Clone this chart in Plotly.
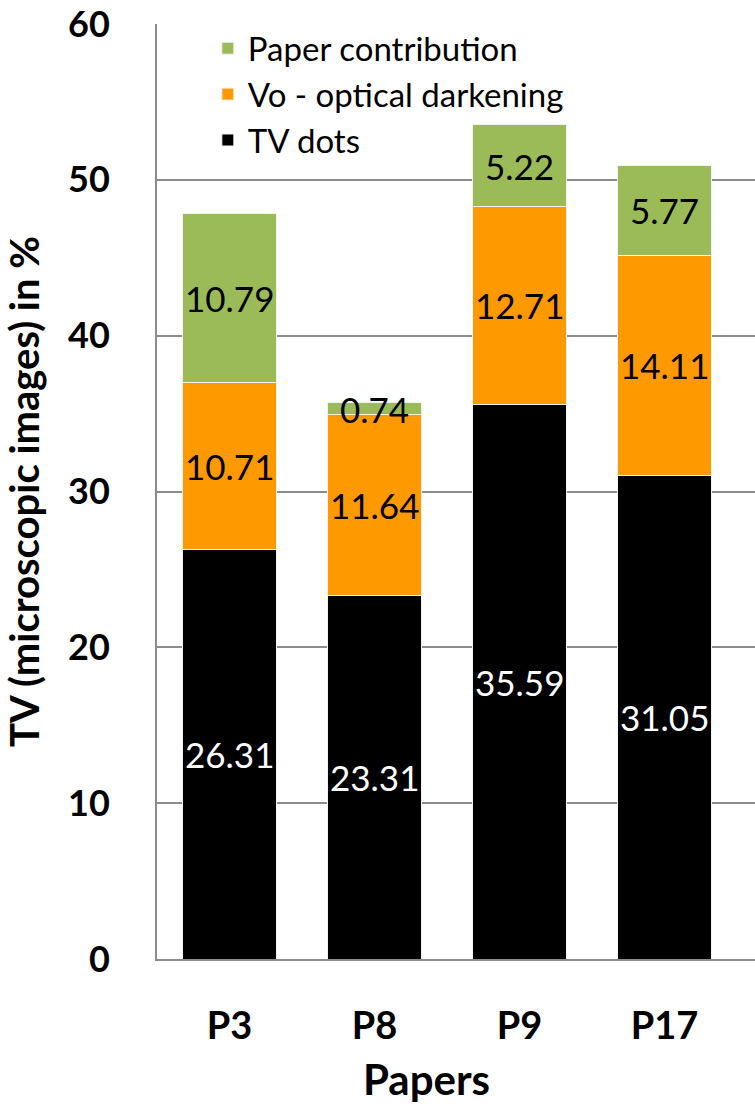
import plotly.graph_objects as go

# Papers and the three stacked components of tone value (in %)
papers = ["P3", "P8", "P9", "P17"]
tv_dots = [26.31, 23.31, 35.59, 31.05]
optical_darkening = [10.71, 11.64, 12.71, 14.11]
paper_contribution = [10.79, 0.74, 5.22, 5.77]

# name, values, fill colour, label colour, legend rank (top first)
series = [
    ("TV dots", tv_dots, "#000000", "#ffffff", 3),
    ("Vo - optical darkening", optical_darkening, "#FF9900", "#000000", 2),
    ("Paper contribution", paper_contribution, "#9BBB59", "#000000", 1),
]

FONT = "Lato"
fig = go.Figure()
annotations = []
base = [0.0] * len(papers)
for name, vals, color, txtcolor, rank in series:
    fig.add_trace(go.Bar(
        x=papers, y=vals, name=name, legendrank=rank,
        marker=dict(color=color, line=dict(color="#f2f2f2", width=1)),
        width=0.65,
    ))
    for i, (p, v) in enumerate(zip(papers, vals)):
        annotations.append(dict(
            x=p, y=base[i] + v / 2, text=f"{v:.2f}", showarrow=False,
            xref="x", yref="y",
            font=dict(family=FONT, size=35, color=txtcolor),
        ))
        base[i] += v

# x-axis title, set slightly left of the plot centre
annotations.append(dict(
    text="<b>Papers</b>", xref="paper", yref="paper",
    x=0.45, y=-0.128, xanchor="center", yanchor="middle", showarrow=False,
    font=dict(family=FONT, size=42, color="#000000"),
))

fig.update_layout(
    width=755, height=1109,
    margin=dict(l=157, r=0, t=24, b=150),
    paper_bgcolor="white", plot_bgcolor="white",
    barmode="stack",
    showlegend=True,
    legend=dict(
        x=0.085, y=1.004, xanchor="left", yanchor="top",
        traceorder="normal",
        font=dict(family=FONT, size=33, color="#000000"),
        bgcolor="rgba(0,0,0,0)",
    ),
    annotations=annotations,
    xaxis=dict(
        type="category", range=[-0.5, 3.624],
        showline=True, linecolor="#8c8c8c", linewidth=2,
        ticks="", ticklabelstandoff=32,
        tickfont=dict(family=FONT, size=38, color="#000000", weight="bold"),
    ),
    yaxis=dict(
        range=[0, 60], dtick=10,
        showgrid=True, gridcolor="#8c8c8c", gridwidth=1.5,
        showline=True, linecolor="#8c8c8c", linewidth=2,
        zeroline=False, ticks="", ticklabelstandoff=38,
        tickfont=dict(family=FONT, size=36, color="#000000", weight="bold"),
        title=dict(text="<b>TV (microscopic images) in %</b>", standoff=20,
                   font=dict(family=FONT, size=40, color="#000000")),
    ),
)

fig.write_html("out.html")
